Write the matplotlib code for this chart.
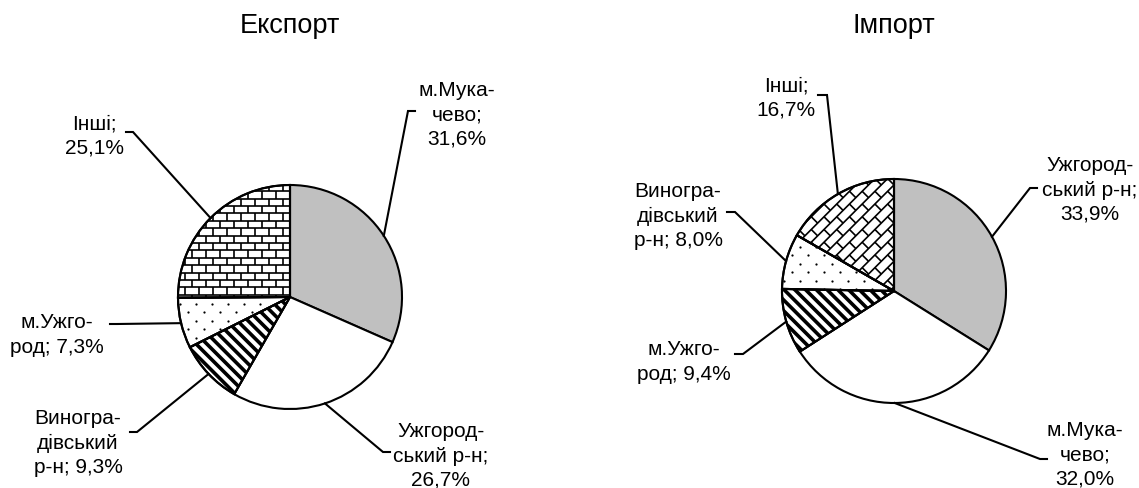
import numpy as np
import matplotlib
matplotlib.use("Agg")
import matplotlib.pyplot as plt
from matplotlib.collections import LineCollection
from matplotlib.patches import PathPatch

plt.rcParams['font.family'] = ['Liberation Sans', 'DejaVu Sans']

# -----------------------
# data
# -----------------------
export_names = ["м.Мука-\nчево", "Ужгород-\nський р-н", "Виногра-\nдівський\nр-н", "м.Ужго-\nрод", "Інші"]
export_values = [31.6, 26.7, 9.3, 7.3, 25.1]
export_seps = ["\n", "\n", " ", " ", "\n"]

import_names = ["Ужгород-\nський р-н", "м.Мука-\nчево", "м.Ужго-\nрод", "Виногра-\nдівський\nр-н", "Інші"]
import_values = [33.9, 32.0, 9.4, 8.0, 16.7]
import_seps = ["\n", "\n", " ", " ", "\n"]

# -----------------------
# layout (pixels, 1 unit = pie radius)
# -----------------------
W, H = 1139, 489
R_PX = 112.0

# slice fill: (facecolor, pattern)
export_styles = [("#c0c0c0", None), ("white", None), ("white", "stripes"),
                 ("white", "dots"), ("white", "brick")]
import_styles = [("#c0c0c0", None), ("white", None), ("white", "stripes"),
                 ("white", "dots"), ("white", "diagbrick")]

# label layout: text centre, elbow point, stub end (pixel coords in the image)
export_layout = [((457, 115), (408, 112), (415, 112)),
                 ((441, 456), (383, 453), (390, 453)),
                 ((78, 443), (137, 433), (130, 433)),
                 ((57, 335), (117, 325), (110, 325)),
                 ((94, 136), (133, 133), (126, 133))]
import_layout = [((1090, 190), (1030, 189), (1037, 189)),
                 ((1085, 455), (1040, 460), (1047, 460)),
                 ((684, 362), (743, 355), (735, 355)),
                 ((678, 216), (735, 213), (727, 213)),
                 ((786, 98), (827, 96), (818, 96))]


def fmt(name, sep, value):
    return name + ";" + sep + ("%.1f%%" % value).replace(".", ",")


def rotate(pts, angle):
    a = np.deg2rad(angle)
    rot = np.array([[np.cos(a), -np.sin(a)], [np.sin(a), np.cos(a)]])
    return pts @ rot.T


def brick_segments(w, h, angle, extent=1.5):
    segs = []
    nrows = int(2 * extent / h) + 2
    for k in range(nrows):
        v = -extent + k * h
        segs.append([(-extent, v), (extent, v)])
        u = -extent + (k % 2) * w / 2
        while u < extent:
            segs.append([(u, v), (u, v + h)])
            u += w
    return rotate(np.array(segs), angle)


def stripe_segments(step, angle, extent=1.5):
    vs = np.arange(-extent, extent, step)
    segs = np.array([[(-extent, v), (extent, v)] for v in vs])
    return rotate(segs, angle)


def dot_points(dx, dy, extent=1.2):
    pts = []
    for k, y in enumerate(np.arange(-extent, extent, dy)):
        for x in np.arange(-extent + (k % 2) * dx / 2, extent, dx):
            pts.append((x, y))
    return np.array(pts)


def fill_pattern(ax, wdg, pattern):
    z = wdg.get_zorder() + 0.1
    if pattern == "brick":
        art = LineCollection(brick_segments(14 / R_PX, 7.4 / R_PX, 0), colors="black",
                             linewidths=1.2, zorder=z)
        ax.add_collection(art)
    elif pattern == "diagbrick":
        art = LineCollection(brick_segments(18 / R_PX, 9 / R_PX, 45), colors="black",
                             linewidths=1.2, zorder=z)
        ax.add_collection(art)
    elif pattern == "stripes":
        art = LineCollection(stripe_segments(7.6 / R_PX, -45), colors="black",
                             linewidths=2.6, zorder=z)
        ax.add_collection(art)
    elif pattern == "dots":
        p = dot_points(16 / R_PX, 8.5 / R_PX)
        art = ax.scatter(p[:, 0], p[:, 1], s=2.6, c="black", linewidths=0, zorder=z)
    else:
        return
    art.set_clip_path(wdg)
    edge = PathPatch(wdg.get_path(), fill=False, edgecolor="black",
                     linewidth=1.5, zorder=z + 0.1)
    ax.add_patch(edge)


def draw_pie(ax, center_px, values, names, seps, styles, layout, title):
    cx, cy = center_px

    def to_data(p):
        return ((p[0] - cx) / R_PX, (cy - p[1]) / R_PX)

    wedges, _ = ax.pie(values, startangle=90, counterclock=False, radius=1,
                       wedgeprops=dict(edgecolor="black", linewidth=1.5))

    for wdg, (fc, pattern) in zip(wedges, styles):
        wdg.set_facecolor(fc)
        fill_pattern(ax, wdg, pattern)

    for wdg, name, sep, val, (tpos, elbow, stub) in zip(wedges, names, seps, values, layout):
        mid = np.deg2rad((wdg.theta1 + wdg.theta2) / 2)
        ex, ey = np.cos(mid), np.sin(mid)
        e = to_data(elbow)
        s = to_data(stub)
        ax.plot([ex, e[0], s[0]], [ey, e[1], s[1]], color="black", lw=1.5,
                solid_joinstyle="miter", zorder=5)
        t = to_data(tpos)
        ax.text(t[0], t[1], fmt(name, sep, val), ha="center", va="center",
                multialignment="center", fontsize=15, linespacing=1.34)

    ax.set_xlim((ax_px[ax][0] - cx) / R_PX, (ax_px[ax][1] - cx) / R_PX)
    ax.set_ylim((cy - H) / R_PX, cy / R_PX)
    ax.set_aspect("auto")
    ax.axis("off")
    ax.figure.text(cx / W, 1 - 26 / H, title, ha="center", va="center", fontsize=19.5)


fig = plt.figure(figsize=(W / 100, H / 100), dpi=100)
ax1 = fig.add_axes([0, 0, 0.5, 1])
ax2 = fig.add_axes([0.5, 0, 0.5, 1])
ax_px = {ax1: (0, W / 2), ax2: (W / 2, W)}

draw_pie(ax1, (290, 298), export_values, export_names, export_seps, export_styles, export_layout, "Експорт")
draw_pie(ax2, (894, 292), import_values, import_names, import_seps, import_styles, import_layout, "Імпорт")

fig.savefig("out.png", dpi=100, facecolor="white")
